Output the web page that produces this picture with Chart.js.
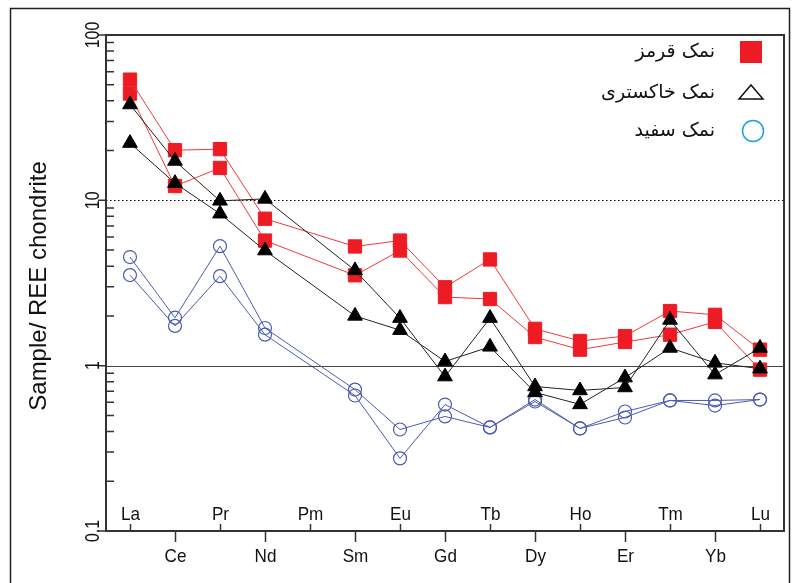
<!DOCTYPE html>
<html>
<head>
<meta charset="utf-8">
<script src="https://cdn.jsdelivr.net/npm/chart.js@4/dist/chart.umd.min.js"></script>
<style>
  html, body { margin: 0; padding: 0; background: #fff; }
  #wrap { width: 795px; height: 583px; }
</style>
</head>
<body>
<div id="wrap"><canvas id="reeChart" width="795" height="583"></canvas></div>
<script>
// REE elements, chondrite normalised
const elements = ['La', 'Ce', 'Pr', 'Nd', 'Pm', 'Sm', 'Eu', 'Gd', 'Tb', 'Dy', 'Ho', 'Er', 'Tm', 'Yb', 'Lu'];

// red salt (two samples)
const red1 = [53.7, 20.1, 20.4, 7.74, null, 5.26, 5.71, 2.98, 4.39, 1.67, 1.41, 1.51, 2.14, 2.03, 1.25];
const red2 = [44.2, 12.2, 15.7, 5.71, null, 3.52, 4.97, 2.60, 2.53, 1.49, 1.25, 1.39, 1.54, 1.84, 0.946];

// grey salt
const grey1 = [38.0, 17.3, 9.93, 10.2, null, 3.77, 1.94, 0.859, 1.94, 0.748, 0.708, 0.738, 1.89, 0.883, 1.28];
const grey2 = [22.2, 12.7, 8.30, 4.97, null, 2.00, 1.64, 1.06, 1.30, 0.689, 0.583, 0.847, 1.28, 1.04, 0.959];

// white salt
const white1 = [4.54, 1.95, 5.28, 1.69, null, 0.717, 0.411, 0.493, 0.423, 0.624, 0.417, 0.528, 0.616, 0.616, 0.624];
const white2 = [3.53, 1.74, 3.48, 1.54, null, 0.660, 0.275, 0.582, 0.423, 0.607, 0.417, 0.486, 0.616, 0.574, 0.624];

const yMajor = [0.1, 1, 10, 100];
const yTitle = 'Sample/ REE chondrite';
const legendItems = ['نمک قرمز', 'نمک خاکستری', 'نمک سفید'];

const RED = '#ED1C24';
const BLUE = '#4B5BB0';

function toPoints(arr) {
    return arr.map((v, i) => ({ x: i, y: v }));
}

function series(arr, kind) {
    const base = { data: toPoints(arr), spanGaps: true, tension: 0, borderWidth: 1, pointBorderWidth: 1 };
    if (kind === 'grey') {
        return Object.assign(base, {
            borderColor: '#222', pointStyle: 'triangle', pointRadius: 8.5,
            pointBackgroundColor: '#000', pointBorderColor: '#000'
        });
    }
    if (kind === 'red') {
        return Object.assign(base, {
            borderColor: '#F03A3A', pointStyle: 'rect', pointRadius: 9.4,
            pointBackgroundColor: RED, pointBorderColor: RED
        });
    }
    return Object.assign(base, {
        borderColor: BLUE, pointStyle: 'circle', pointRadius: 6.5, pointBorderWidth: 1.2,
        pointBackgroundColor: 'rgba(0,0,0,0)', pointBorderColor: BLUE
    });
}

// axes, ticks, grid lines and legend drawn around the chart area
const framePlugin = {
    id: 'frame',
    beforeDatasetsDraw(chart) {
        const ctx = chart.ctx;
        const a = chart.chartArea;
        const xs = chart.scales.x, ys = chart.scales.y;
        ctx.save();

        // outer border
        ctx.strokeStyle = '#222';
        ctx.lineWidth = 1.5;
        ctx.strokeRect(10.5, 8.5, 779, 620);

        // reference lines at 10 and 1
        ctx.lineWidth = 1;
        ctx.strokeStyle = '#000';
        ctx.setLineDash([1.5, 2.5]);
        let y10 = Math.round(ys.getPixelForValue(10)) + 0.5;
        ctx.beginPath(); ctx.moveTo(a.left, y10); ctx.lineTo(a.right, y10); ctx.stroke();
        ctx.setLineDash([]);
        ctx.strokeStyle = '#444';
        let y1 = Math.round(ys.getPixelForValue(1)) + 0.5;
        ctx.beginPath(); ctx.moveTo(a.left, y1); ctx.lineTo(a.right, y1); ctx.stroke();

        // plot box
        ctx.strokeStyle = '#333';
        ctx.lineWidth = 2;
        ctx.strokeRect(a.left, a.top, a.right - a.left, a.bottom - a.top);

        // y ticks
        ctx.lineWidth = 1.5;
        ctx.beginPath();
        for (let d = 0; d < yMajor.length; d++) {
            const py = ys.getPixelForValue(yMajor[d]);
            ctx.moveTo(a.left - 8, py); ctx.lineTo(a.left, py);
            if (d < yMajor.length - 1) {
                for (let m = 2; m <= 9; m++) {
                    const my = ys.getPixelForValue(yMajor[d] * m);
                    ctx.moveTo(a.left, my); ctx.lineTo(a.left + 8, my);
                }
            }
        }
        ctx.stroke();

        // y tick labels, rotated
        ctx.fillStyle = '#111';
        ctx.font = '20px "Liberation Sans", Arial, sans-serif';
        ctx.textAlign = 'center';
        ctx.textBaseline = 'middle';
        yMajor.forEach(v => {
            const py = ys.getPixelForValue(v);
            ctx.save();
            ctx.translate(93, py);
            ctx.rotate(-Math.PI / 2);
            ctx.scale(0.8, 1);
            ctx.fillText(String(v), 0, 0);
            ctx.restore();
        });

        // y title
        ctx.save();
        ctx.font = '24px "Liberation Sans", Arial, sans-serif';
        ctx.translate(39, 286);
        ctx.rotate(-Math.PI / 2);
        ctx.fillText(yTitle, 0, 0);
        ctx.restore();

        // x ticks and labels, alternating inside / outside
        ctx.font = '19px "Liberation Sans", Arial, sans-serif';
        ctx.lineWidth = 1.5;
        elements.forEach((el, i) => {
            const px = Math.round(xs.getPixelForValue(i)) + 0.5;
            ctx.beginPath();
            if (i % 2 === 0) {
                ctx.moveTo(px, a.bottom); ctx.lineTo(px, a.bottom - 7);
            } else {
                ctx.moveTo(px, a.bottom); ctx.lineTo(px, a.bottom + 11);
            }
            ctx.stroke();
            ctx.save();
            ctx.translate(px, i % 2 === 0 ? a.bottom - 16 : a.bottom + 26);
            ctx.scale(0.9, 1);
            ctx.fillText(el, 0, 0);
            ctx.restore();
        });

        // legend
        const lx = 751, ly = [52, 93, 131];
        ctx.fillStyle = RED;
        ctx.fillRect(lx - 11, ly[0] - 11, 22, 22);
        ctx.strokeStyle = '#111';
        ctx.lineWidth = 1.5;
        ctx.beginPath();
        ctx.moveTo(lx, ly[1] - 8); ctx.lineTo(lx + 12, ly[1] + 6); ctx.lineTo(lx - 12, ly[1] + 6); ctx.closePath();
        ctx.stroke();
        ctx.strokeStyle = '#1BA1E2';
        ctx.beginPath(); ctx.arc(lx + 2, ly[2], 10.5, 0, Math.PI * 2); ctx.stroke();

        ctx.fillStyle = '#111';
        ctx.font = '19px "DejaVu Sans", sans-serif';
        ctx.direction = 'rtl';
        ctx.textAlign = 'right';
        legendItems.forEach((t, i) => ctx.fillText(t, 715, ly[i]));
        ctx.restore();
    }
};

new Chart(document.getElementById('reeChart'), {
    type: 'line',
    data: {
        datasets: [
            series(grey1, 'grey'), series(grey2, 'grey'),
            series(red1, 'red'), series(red2, 'red'),
            series(white1, 'white'), series(white2, 'white')
        ]
    },
    options: {
        responsive: false,
        animation: false,
        devicePixelRatio: 1,
        layout: { padding: { left: 106, top: 35, right: 11, bottom: 52 } },
        plugins: { legend: { display: false }, tooltip: { enabled: false } },
        scales: {
            x: { type: 'linear', min: -0.533, max: 14.533, display: false },
            y: { type: 'logarithmic', min: 0.1, max: 100, display: false }
        }
    },
    plugins: [framePlugin]
});
</script>
</body>
</html>
